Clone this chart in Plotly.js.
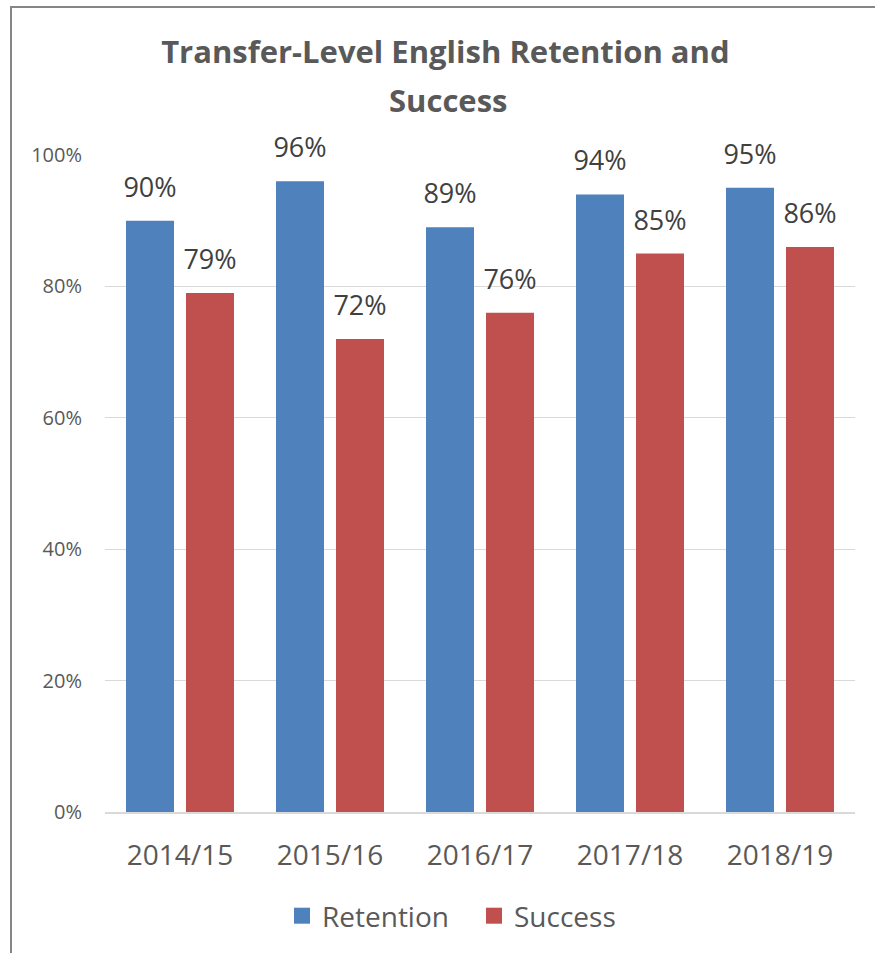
<!DOCTYPE html>
<html>
<head>
<meta charset="utf-8">
<script src="https://cdn.plot.ly/plotly-3.0.1.min.js"></script>
<style>
  html, body { margin: 0; padding: 0; background: #fff; overflow: hidden; }
  #chart { position: absolute; left: 0; top: 0; width: 875px; height: 953px; }
  #frame { position: absolute; left: 10px; top: 6px; width: 900px; height: 1000px;
           border-left: 2px solid #868686; border-top: 2px solid #868686; pointer-events: none; }
</style>
</head>
<body>
<div id="chart"></div>
<div id="frame"></div>
<script>
const years = ["2014/15", "2015/16", "2016/17", "2017/18", "2018/19"];
const retention = [90, 96, 89, 94, 95];
const success = [79, 72, 76, 85, 86];
const seriesNames = ["Retention", "Success"];
const seriesColors = ["#4F81BD", "#C0504D"];
const yTickVals = [0, 20, 40, 60, 80, 100];
const yTickText = ["0%", "20%", "40%", "60%", "80%", "100%"];

const FONT = "Open Sans, Liberation Sans, sans-serif";

function barTrace(name, vals, color) {
  return {
    type: "bar", name: name, x: years, y: vals,
    marker: { color: color, line: { width: 0 } },
    hoverinfo: "skip", showlegend: false
  };
}
function labelTrace(vals, grp) {
  return {
    type: "scatter", mode: "markers+text", x: years, y: vals,
    text: vals.map(v => v + "%"),
    textposition: "top center",
    textfont: { family: FONT, size: 27, color: "#404040" },
    marker: { size: 26, opacity: 0 },
    alignmentgroup: "labels", offsetgroup: grp,
    showlegend: false, hoverinfo: "skip", cliponaxis: false
  };
}
function legendTrace(name, color) {
  return {
    type: "scatter", mode: "markers", name: name, x: [null], y: [null],
    marker: { symbol: "square", size: 18, color: color },
    alignmentgroup: "legend", offsetgroup: "legend",
    hoverinfo: "skip", showlegend: true
  };
}

const data = [
  barTrace(seriesNames[0], retention, seriesColors[0]),
  barTrace(seriesNames[1], success, seriesColors[1]),
  labelTrace(retention, "a"),
  labelTrace(success, "b"),
  legendTrace(seriesNames[0], seriesColors[0]),
  legendTrace(seriesNames[1], seriesColors[1])
];

const layout = {
  width: 875, height: 953,
  margin: { l: 105, r: 20, t: 155, b: 141 },
  paper_bgcolor: "#ffffff", plot_bgcolor: "#ffffff",
  font: { family: FONT, color: "#595959" },
  barmode: "group", bargap: 0.2, bargroupgap: 0.2,
  scattermode: "group", scattergap: 0.2,
  title: {
    text: "<b>Transfer-Level English Retention and</b>",
    font: { family: FONT, size: 31, color: "#595959" },
    x: 0.509, xanchor: "center", y: 1 - 52 / 953, yanchor: "middle"
  },
  annotations: [{
    text: "<b>Success</b>", xref: "paper", yref: "paper",
    x: 0.457, y: (812 - 100) / 657, xanchor: "center", yanchor: "middle",
    showarrow: false, font: { family: FONT, size: 31, color: "#595959" }
  }],
  xaxis: {
    type: "category",
    tickfont: { family: FONT, size: 28, color: "#595959" },
    showgrid: false, showline: true, linecolor: "#D9D9D9", linewidth: 2,
    ticks: "", ticklabelstandoff: 17, fixedrange: true
  },
  yaxis: {
    range: [0, 100], tickmode: "array", tickvals: yTickVals, ticktext: yTickText,
    tickfont: { family: FONT, size: 20, color: "#595959" },
    showgrid: true, gridcolor: "#D9D9D9", gridwidth: 1,
    zeroline: false, showline: false, ticks: "", ticklabelstandoff: 22,
    fixedrange: true
  },
  legend: {
    orientation: "h", x: 0.492, xanchor: "center", y: (812 - 916) / 657, yanchor: "middle",
    font: { family: FONT, size: 28, color: "#595959" },
    itemwidth: 30, traceorder: "normal", entrywidth: 147
  },
  showlegend: true
};

Plotly.newPlot("chart", data, layout, { displayModeBar: false, staticPlot: true });
</script>
</body>
</html>
